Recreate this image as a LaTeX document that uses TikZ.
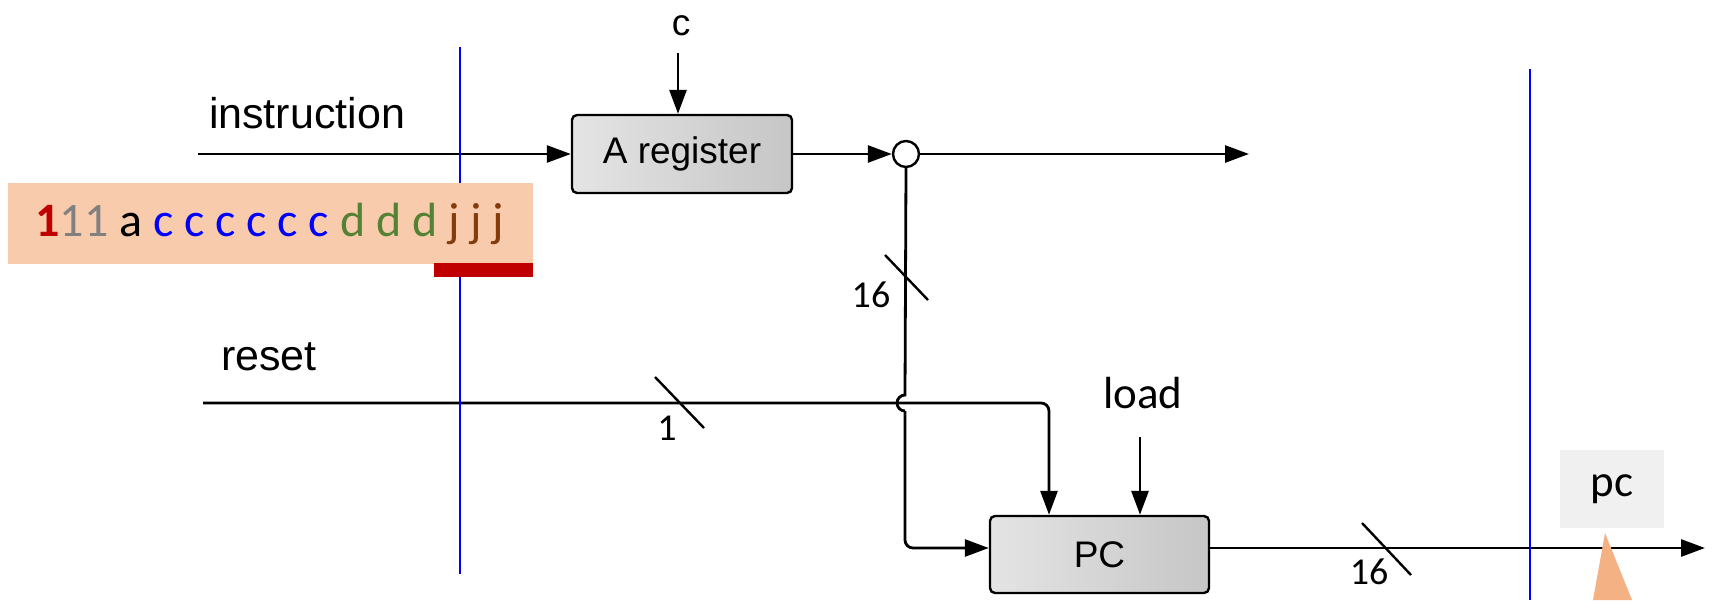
\documentclass[tikz,border=0pt]{standalone}
\usepackage{fontspec}
\setmainfont{Liberation Sans}
\newfontfamily\calfont{Carlito}
\usetikzlibrary{arrows.meta}
\definecolor{boxorange}{HTML}{F8CBAD}
\definecolor{triorange}{HTML}{F4B183}
\definecolor{barred}{HTML}{C00000}
\definecolor{bitgray}{HTML}{808080}
\definecolor{bitblue}{HTML}{0000FF}
\definecolor{bitgreen}{HTML}{548235}
\definecolor{bitbrown}{HTML}{843C0C}
\definecolor{regL}{HTML}{E4E4E4}
\definecolor{regR}{HTML}{C6C6C6}
\definecolor{pcgray}{HTML}{F0F0F0}
\tikzset{
  wire/.style={line width=2.8pt, black},
  arr/.style={wire, -{Triangle[length=24pt,width=17pt]}},
  reg/.style={draw, line width=2.4pt, rounded corners=5pt, left color=regL, right color=regR,
    inner sep=0pt, font=\fontsize{37}{40}\selectfont},
  junction/.style={circle, draw, line width=2.4pt, fill=white, minimum size=26pt, inner sep=0pt},
  lbl/.style={font=\fontsize{43}{50}\selectfont, inner sep=0pt},
  callbl/.style={font=\calfont\fontsize{45}{50}\selectfont, inner sep=0pt},
  buslbl/.style={font=\calfont\fontsize{38}{44}\selectfont, inner sep=0pt},
  busmark/.style={line width=2.4pt, black},
  guide/.style={line width=2pt, bitblue}
}
\begin{document}
\begin{tikzpicture}[x=1pt,y=-1pt]
\useasboundingbox (0,0) rectangle (1722,600);
% nodes
\node[reg, minimum width=220pt, minimum height=78pt] (areg) at (682,154) {A register};
\node[reg, minimum width=219pt, minimum height=77pt] (pc) at (1099.5,554.5) {PC};
\node[junction] (junc) at (906,154) {};
\node[lbl, font=\fontsize{37}{40}\selectfont] (clbl) at (681,26) {c};
\node[lbl] (instr) at (307,113) {instruction};
\node[lbl] (reset) at (269,357) {reset};
\node[callbl] (load) at (1143,393) {load};
% coordinates
\coordinate (instart) at (198,154);
\coordinate (cstart) at (678,53);
\coordinate (outend) at (1249,154);
\coordinate (hoptop) at (905,395);
\coordinate (resetstart) at (203,403);
\coordinate (loadstart) at (1140,437);
\coordinate (pcout) at (1705,548);
% wires
\draw[arr] (instart) -- (instart -| areg.west);
\draw[arr] (cstart) -- (cstart |- areg.north);
\draw[arr] (areg.east) -- (junc.west);
\draw[arr] (junc.east) -- (outend);
\draw[wire] (junc.south) -- (hoptop) arc[start angle=90, end angle=270, radius=8pt];
\draw[arr, rounded corners=8pt] (905,411) -- (905,548) -- ([yshift=6.5pt]pc.west);
\draw[arr, rounded corners=8pt] (resetstart) -| ([xshift=-50.5pt]pc.north);
\draw[arr] (loadstart) -- (loadstart |- pc.north);
\draw[arr] ([yshift=6.5pt]pc.east) -- (pcout);
% bus width marks
\draw[busmark] (655,377) -- (704,428);
\node[buslbl] (w1) at (667,428) {1};
\draw[busmark] (885,255) -- (928,300);
\node[buslbl] (w16a) at (871,295) {16};
\draw[busmark] (1362,523) -- (1411,575);
\node[buslbl] (w16b) at (1369,572) {16};
% guide lines
\draw[guide] (460,47) -- (460,574);
\draw[guide] (1530,69) -- (1530,600);
% instruction bits
\fill[boxorange] (8,183) rectangle (533,264);
\node[font=\calfont\fontsize{48}{52}\selectfont, inner sep=0pt] (bits) at (270,224)
  {\textcolor{barred}{\bfseries 1}\textcolor{bitgray}{11} a \textcolor{bitblue}{c c c c c c} \textcolor{bitgreen}{d d d} \textcolor{bitbrown}{j j j}};
\fill[barred] (434,263) rectangle (533,277);
% pc label and pointer
\node[callbl, fill=pcgray, minimum width=104pt, minimum height=78pt] (pclbl) at (1612,489) {pc};
\fill[triorange] (1605,533) -- (1593,600) -- (1632,600) -- cycle;
\end{tikzpicture}
\end{document}
